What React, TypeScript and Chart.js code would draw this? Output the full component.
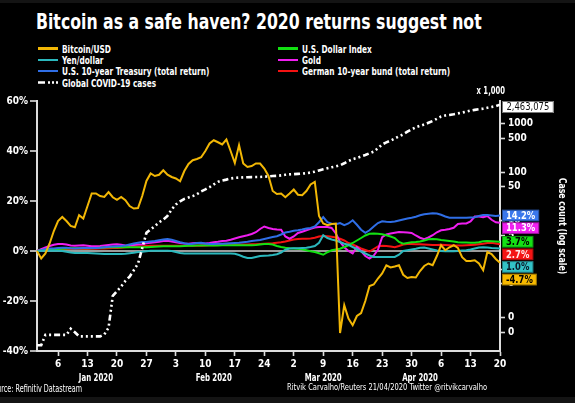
import React, { useEffect, useRef } from "react";
import { Chart, registerables } from "chart.js";

Chart.register(...registerables);

const FONT = '"Liberation Sans Narrow", "DejaVu Sans Condensed", "Liberation Sans", sans-serif';

// ---------- data ----------
const DAY_COUNT = 111; // 1 Jan 2020 .. 20 Apr 2020
const days: string[] = [];
for (let i = 0; i < DAY_COUNT; i++) {
  days.push(new Date(Date.UTC(2020, 0, 1 + i)).toISOString().slice(0, 10));
}

const tickDates = [
  "2020-01-06", "2020-01-13", "2020-01-20", "2020-01-27",
  "2020-02-03", "2020-02-10", "2020-02-17", "2020-02-24",
  "2020-03-02", "2020-03-09", "2020-03-16", "2020-03-23", "2020-03-30",
  "2020-04-06", "2020-04-13", "2020-04-20",
];
const tickLabels = ["6", "13", "20", "27", "3", "10", "17", "24", "2", "9", "16", "23", "30", "6", "13", "20"];

const monthLabels = ["Jan 2020", "Feb 2020", "Mar 2020", "Apr 2020"];
const monthLabelDates = ["2020-01-15", "2020-02-12", "2020-03-09", "2020-04-01"];

// % returns since 1 Jan 2020
const bitcoin = [
  0, -3, -1, 3, 8, 12, 13.6, 12, 10, 9.5,
  14.3, 13, 18, 23, 23, 22, 21.6, 23.6, 21.5, 20.5,
  21.6, 20.3, 18, 17, 17.2, 22, 28, 31, 30, 30.5,
  32.3, 30.5, 29.6, 29, 27.9, 32, 34.8, 36.3, 36.8, 37.5,
  40, 43, 44.3, 43.5, 42.6, 44.6, 40, 35.2, 42.3, 35,
  33.6, 34, 35, 35, 33, 30, 24, 22.8, 23, 21.5,
  23, 24.6, 22.5, 22.3, 24, 26.6, 27.6, 14, 11, 10.3,
  10.8, 11, -32.8, -21.7, -27, -29.7, -26, -24.8, -20, -14,
  -13.4, -11, -9, -5.7, -6.6, -6.2, -5.7, -9.5, -10.8, -10.4,
  -10.6, -8, -6, -5, -5.7, -2, 2.3, 0.3, 1.5, 2.3,
  1.2, -2.5, -4, -4, -3.7, -5, -7.7, -0.4, -1.2, -3.2,
  -4.7,
];

const yen = [
  0, 0.1, 0.1, 0.1, 0.1, 0.1, 0.0, -0.3, -0.6, -0.8,
  -0.8, -0.8, -0.8, -0.9, -1.0, -1.1, -1.2, -1.2, -1.2, -1.2,
  -1.2, -1.1, -0.9, -0.7, -0.4, -0.3, -0.1, 0.1, 0.1, 0.1,
  0.1, 0.1, 0.0, -0.4, -0.8, -1.0, -1.0, -1.0, -1.0, -1.0,
  -1.0, -1.0, -1.0, -1.0, -1.0, -1.0, -1.0, -1.1, -1.6, -2.3,
  -2.8, -2.8, -2.4, -2.0, -1.9, -1.8, -1.6, -1.3, -0.6, 0.5,
  1.0, 1.1, 1.1, 1.2, 1.3, 1.6, 2.0, 3.3, 6.3, 5.2,
  4.6, 4.2, 3.6, 2.9, 2.5, 1.6, 0.8, -0.2, -1.0, -1.8,
  -2.4, -2.4, -2.4, -2.4, -2.4, -2.4, -1.5, 0, 0.3, 0.6,
  0.9, 1.3, 1.4, 1.0, 0.6, 0.2, 0, -0.1, -0.1, -0.1,
  0, 0.2, 0.3, 0.6, 1.0, 1.4, 1.5, 1.4, 1.2, 1.1,
  1.0,
];

const treasury = [
  0, 0.3, 0.8, 1.0, 1.0, 1.2, 1.3, 1.3, 1.1, 1.0,
  1.1, 1.2, 1.2, 1.2, 1.2, 1.3, 1.5, 1.7, 1.8, 1.9,
  2.0, 2.2, 2.6, 3.0, 3.3, 3.6, 3.6, 3.8, 4.0, 4.3,
  4.6, 4.8, 4.5, 4.0, 3.5, 3.1, 2.8, 2.9, 3.2, 3.3,
  3.0, 2.8, 2.8, 2.9, 2.9, 3.0, 3.1, 3.2, 3.3, 3.5,
  3.7, 4.0, 4.2, 4.4, 4.8, 5.2, 5.6, 5.9, 6.6, 7.4,
  7.7, 8.1, 8.3, 8.6, 9.0, 9.2, 9.8, 11.5, 13.6, 11.5,
  10.9, 10.7, 11.2, 10.3, 11, 12.3, 10.5, 8.5, 7.3, 8.3,
  9.8, 11.2, 11.9, 11.7, 11.6, 11.8, 12.2, 12.6, 13.0, 13.3,
  13.7, 14.3, 14.7, 14.9, 15.1, 15.0, 14.5, 13.8, 13.3, 13.3,
  13.3, 13.3, 13.3, 13.4, 13.5, 14.0, 14.4, 14.4, 14.2, 14.0,
  14.2,
];

const dollarIndex = [
  0, 0.3, 0.5, 0.6, 0.7, 0.8, 0.9, 1.0, 1.1, 1.1,
  1.1, 1.1, 1.1, 1.1, 1.2, 1.3, 1.4, 1.5, 1.5, 1.5,
  1.5, 1.5, 1.5, 1.5, 1.5, 1.5, 1.5, 1.6, 1.7, 1.8,
  1.9, 1.9, 1.9, 1.9, 1.9, 2.0, 2.1, 2.1, 2.2, 2.2,
  2.2, 2.2, 2.2, 2.2, 2.3, 2.3, 2.3, 2.3, 2.3, 2.3,
  2.3, 2.3, 2.4, 2.6, 2.8, 2.8, 2.6, 2.0, 1.6, 1.3,
  1.1, 1.0, 0.9, 0.7, 0.3, -0.1, -0.4, -0.9, -1.5, -0.5,
  0.3, 0.6, 0.9, 1.6, 2.3, 3.2, 4.2, 5.2, 6.2, 6.9,
  7.0, 6.9, 6.7, 6.3, 5.8, 5.2, 3.6, 2.9, 3.2, 3.5,
  3.6, 3.8, 4.2, 4.7, 4.8, 4.7, 4.4, 4.2, 4.0, 3.8,
  3.5, 3.4, 3.4, 3.3, 3.3, 3.5, 3.9, 4.0, 3.9, 3.8,
  3.7,
];

const gold = [
  0, 0.7, 1.4, 2.0, 2.5, 2.8, 2.8, 2.6, 2.2, 2.1,
  2.2, 2.3, 2.1, 1.9, 1.9, 2.0, 2.2, 2.4, 2.6, 2.7,
  2.5, 2.2, 2.1, 2.4, 2.6, 2.7, 3.1, 3.3, 3.5, 3.7,
  4.0, 4.1, 3.8, 3.5, 3.2, 3.0, 2.9, 3.1, 3.2, 3.0,
  3.0, 3.2, 3.5, 3.7, 4.0, 4.1, 4.5, 5.0, 5.5, 5.9,
  6.3, 6.8, 7.5, 8.8, 9.8, 9.2, 8.8, 8.6, 8.5, 5.8,
  4.9, 5.8, 7.2, 7.7, 8.3, 8.9, 9.4, 9.6, 9.6, 9.6,
  9.2, 7, 3.6, 1.5, 0, -1, 1.6, 0, -2, -3,
  -1.8, 0.5, 5.5, 6.6, 7, 7.3, 7.6, 7.5, 7.4, 7.2,
  6.2, 5.3, 4.7, 5.4, 6.3, 7.5, 8.3, 8.5, 8.8, 9.3,
  10.8, 11, 11, 11.8, 13.8, 13.8, 13.5, 14, 12.5, 11.5,
  11.3,
];

const bund = [
  0, 0.5, 0.8, 0.8, 0.8, 0.8, 0.8, 0.8, 0.8, 0.8,
  0.8, 0.8, 0.8, 0.9, 0.9, 1.0, 1.0, 1.1, 1.2, 1.2,
  1.3, 1.5, 1.6, 1.7, 1.8, 1.9, 2.0, 2.1, 2.1, 2.1,
  2.1, 2.1, 2.1, 2.1, 2.1, 2.1, 2.1, 2.1, 2.1, 2.1,
  2.2, 2.3, 2.3, 2.4, 2.4, 2.4, 2.5, 2.5, 2.6, 2.6,
  2.6, 2.7, 2.7, 2.8, 2.9, 3.0, 3.1, 3.3, 3.5, 3.8,
  4.2, 4.6, 4.8, 4.9, 4.9, 5.0, 5.3, 5.8, 6.0, 5.9,
  5.7, 5.4, 4.9, 4.2, 3.2, 2.6, 1.8, 1.0, 0.4, -0.2,
  0.8, 1.8, 2.1, 2.0, 1.8, 1.5, 2.0, 2.6, 2.8, 2.8,
  2.7, 2.7, 2.6, 2.5, 2.4, 2.4, 2.5, 2.4, 2.3, 2.2,
  2.2, 2.2, 2.3, 2.4, 2.5, 2.7, 2.9, 3.2, 3.3, 3.0,
  2.7,
];

// Global COVID-19 cases, thousands
const covid = [
  0.027, 0.027, 0.044, 0.044, 0.044, 0.044, 0.044, 0.044, 0.059, 0.05,
  0.041, 0.041, 0.041, 0.041, 0.041, 0.041, 0.045, 0.062, 0.28, 0.35,
  0.44, 0.57, 0.7, 0.95, 1.3, 2.7, 5.6, 6.6, 7.7, 9.2,
  10.5, 12.5, 17, 21.5, 25, 28, 30, 32, 35, 40,
  44, 49, 56, 63, 67, 70, 74, 76, 77, 78,
  78.5, 79, 79.3, 79.5, 80.4, 81.5, 83, 84, 85.5, 88,
  90, 91, 92, 93, 95, 98, 102, 108, 114, 120,
  126, 131, 138, 152, 170, 185, 196, 210, 225, 245,
  265, 310, 372, 410, 445, 495, 545, 600, 680, 760,
  840, 900, 960, 1040, 1130, 1260, 1400, 1470, 1510, 1560,
  1625, 1690, 1770, 1850, 1920, 1980, 2035, 2120, 2210, 2290,
  2463.075,
];
const covidLatest = "2,463,075";

const leftTicks = [-40, -20, 0, 20, 40, 60];
const rightTicks = [1000, 500, 100, 50, 10, 5, 1, 0.5, 0.1, 0.05];

const COLORS = {
  bitcoin: "#f2b705",
  yen: "#2bb8bd",
  treasury: "#2f6ee6",
  dollar: "#12e012",
  gold: "#f01ef0",
  bund: "#f41212",
  covid: "#ffffff",
};

const series = [
  { label: "Bitcoin/USD", data: bitcoin, color: COLORS.bitcoin, box: "#f7b900", text: "#000" },
  { label: "Yen/dollar", data: yen, color: COLORS.yen, box: "#33c2c7", text: "#0b1a2a" },
  { label: "U.S. 10-year Treasury (total return)", data: treasury, color: COLORS.treasury, box: "#3a77ec", text: "#fff" },
  { label: "U.S. Dollar Index", data: dollarIndex, color: COLORS.dollar, box: "#14e014", text: "#000" },
  { label: "Gold", data: gold, color: COLORS.gold, box: "#f020f0", text: "#fff" },
  { label: "German 10-year bund (total return)", data: bund, color: COLORS.bund, box: "#f41414", text: "#ffe8e8" },
];

const legendItems = [
  { label: "Bitcoin/USD", color: COLORS.bitcoin, col: 0, row: 0 },
  { label: "Yen/dollar", color: COLORS.yen, col: 0, row: 1 },
  { label: "U.S. 10-year Treasury (total return)", color: COLORS.treasury, col: 0, row: 2 },
  { label: "Global COVID-19 cases", color: COLORS.covid, col: 0, row: 3, dashed: true },
  { label: "U.S. Dollar Index", color: COLORS.dollar, col: 1, row: 0 },
  { label: "Gold", color: COLORS.gold, col: 1, row: 1 },
  { label: "German 10-year bund (total return)", color: COLORS.bund, col: 1, row: 2 },
];

function squeezedText(ctx: any, text: string, x: number, y: number, sx: number) {
  ctx.save();
  ctx.translate(x, y);
  ctx.scale(sx, 1);
  ctx.fillText(text, 0, 0);
  ctx.restore();
}

// ---------- overlay plugin ----------
const overlayPlugin = {
  id: "overlay",
  afterDraw(chart: any) {
    const { ctx, chartArea, scales } = chart;
    const xs = scales.x;
    const ys = scales.y;
    const y2 = scales.y2;
    ctx.save();

    // month labels
    ctx.fillStyle = "#fff";
    ctx.font = `bold 10.5px ${FONT}`;
    ctx.textAlign = "center";
    ctx.textBaseline = "middle";
    monthLabels.forEach((m, i) => {
      const idx = days.indexOf(monthLabelDates[i]);
      squeezedText(ctx, m, xs.getPixelForValue(idx), chartArea.bottom + 27, 0.74);
    });

    // "x 1,000"
    ctx.font = `bold 10px ${FONT}`;
    ctx.textAlign = "right";
    squeezedText(ctx, "x 1,000", chartArea.right + 5, chartArea.top - 10, 0.76);

    // right axis title
    ctx.save();
    ctx.translate(chartArea.right + 62, (chartArea.top + chartArea.bottom) / 2);
    ctx.rotate(Math.PI / 2);
    ctx.textAlign = "center";
    ctx.font = `bold 10.5px ${FONT}`;
    squeezedText(ctx, "Case count (log scale)", 0, 0, 0.82);
    ctx.restore();

    // end-value boxes
    const last = DAY_COUNT - 1;
    const items = series
      .map((s) => ({ v: s.data[last], box: s.box, text: s.text }))
      .sort((a, b) => b.v - a.v);
    let prev = -Infinity;
    ctx.font = `bold 11px ${FONT}`;
    ctx.textAlign = "left";
    items.forEach((it) => {
      const cy = Math.max(ys.getPixelForValue(it.v), prev + 12.6);
      prev = cy;
      const label = `${it.v.toFixed(1)}%`;
      const w = ctx.measureText(label).width * 0.85 + 8;
      const bx = chartArea.right + 2;
      ctx.fillStyle = it.box;
      ctx.fillRect(bx, cy - 5.8, w, 11.6);
      ctx.strokeStyle = "rgba(0,0,0,0.35)";
      ctx.lineWidth = 1;
      ctx.strokeRect(bx + 0.5, cy - 5.3, w - 1, 10.6);
      ctx.fillStyle = it.text;
      squeezedText(ctx, label, bx + 4, cy + 0.5, 0.85);
    });

    // COVID latest box
    const cyc = Math.max(y2.getPixelForValue(covid[last]), chartArea.top + 6);
    ctx.font = `11px ${FONT}`;
    const w2 = ctx.measureText(covidLatest).width * 0.85 + 9;
    const bx2 = chartArea.right + 2;
    ctx.fillStyle = "#fff";
    ctx.fillRect(bx2, cyc - 6, w2, 12);
    ctx.strokeStyle = "#777";
    ctx.strokeRect(bx2 + 0.5, cyc - 5.5, w2 - 1, 11);
    ctx.fillStyle = "#111";
    squeezedText(ctx, covidLatest, bx2 + 4.5, cyc + 0.5, 0.85);

    ctx.restore();
  },
};

const tickFont = { family: FONT, size: 10, weight: "bold" as const };

export default function App() {
  const canvasRef = useRef<HTMLCanvasElement | null>(null);

  useEffect(() => {
    document.body.style.margin = "0";
    document.body.style.background = "#141414";
    const canvas = canvasRef.current;
    if (!canvas) return;

    const lineDs = series.map((s, i) => ({
      label: s.label,
      data: s.data,
      borderColor: s.color,
      backgroundColor: s.color,
      borderWidth: 2,
      pointRadius: 0,
      tension: 0,
      yAxisID: "y",
      order: i === 0 ? 1 : 2 + i,
    }));

    const chart = new Chart(canvas, {
      type: "line",
      data: {
        labels: days,
        datasets: [
          ...lineDs,
          {
            label: "Global COVID-19 cases",
            data: covid,
            borderColor: COLORS.covid,
            backgroundColor: COLORS.covid,
            borderWidth: 2.6,
            borderDash: [6, 3, 2, 3, 2, 3, 2, 3],
            pointRadius: 0,
            tension: 0,
            yAxisID: "y2",
            order: 0,
          },
        ],
      },
      options: {
        animation: false,
        responsive: true,
        maintainAspectRatio: false,
        layout: { padding: { top: 101, left: 0, right: 0, bottom: 0 } },
        plugins: { legend: { display: false }, tooltip: { enabled: false } },
        scales: {
          x: {
            type: "category",
            offset: false,
            grid: { drawOnChartArea: false, tickColor: "#dddddd", tickLength: 5, tickWidth: 1.6, color: "#dddddd" },
            border: { color: "#dddddd", width: 2 },
            ticks: {
              autoSkip: false,
              maxRotation: 0,
              color: "#ffffff",
              font: tickFont,
              padding: 2,
              callback: (v: any) => {
                const k = tickDates.indexOf(days[Number(v)]);
                return k >= 0 ? tickLabels[k] : null;
              },
            },
            afterBuildTicks: (s: any) => {
              s.ticks = s.ticks.filter((t: any) => tickDates.includes(days[t.value]));
            },
            afterFit: (s: any) => {
              s.height = 52;
            },
          },
          y: {
            type: "linear",
            position: "left",
            min: -40,
            max: 60,
            grid: {
              drawOnChartArea: true,
              color: (c: any) => (c.tick && c.tick.value === 0 ? "#9a9a9a" : "rgba(0,0,0,0)"),
              lineWidth: (c: any) => (c.tick && c.tick.value === 0 ? 2 : 0),
              tickColor: "#dddddd",
              tickLength: 7,
              tickWidth: 1.6,
            },
            border: { color: "#dddddd", width: 2 },
            ticks: {
              color: "#ffffff",
              font: tickFont,
              padding: 2,
              callback: (v: any) => `${v}%`,
            },
            afterBuildTicks: (s: any) => {
              s.ticks = leftTicks.map((v) => ({ value: v }));
            },
            afterFit: (s: any) => {
              s.width = 37;
            },
          },
          y2: {
            type: "logarithmic",
            position: "right",
            min: 0.0205,
            max: 2925,
            grid: { drawOnChartArea: false, tickColor: "#dddddd", tickLength: 5, tickWidth: 1.6 },
            border: { color: "#dddddd", width: 2 },
            ticks: {
              autoSkip: false,
              color: "#ffffff",
              font: tickFont,
              padding: 3,
              callback: (v: any) => (Number(v) >= 1 ? String(v) : "0"),
            },
            afterBuildTicks: (s: any) => {
              s.ticks = rightTicks.map((v) => ({ value: v }));
            },
            afterFit: (s: any) => {
              s.width = 75;
            },
          },
        },
      },
      plugins: [overlayPlugin],
    } as any);

    return () => chart.destroy();
  }, []);

  const textBase: React.CSSProperties = {
    position: "absolute",
    color: "#fff",
    fontFamily: FONT,
    whiteSpace: "nowrap",
    transformOrigin: "0 50%",
  };

  return (
    <div style={{ position: "relative", width: 575, height: 403, background: "#141414", overflow: "hidden" }}>
      <div style={{ position: "absolute", left: 0, top: 3, width: 575, height: 394, background: "#000" }} />
      <div
        style={{
          ...textBase,
          left: 36,
          top: 12,
          fontSize: 21,
          fontWeight: "bold",
          lineHeight: "21px",
          transform: "scaleX(0.832)",
        }}
      >
        Bitcoin as a safe haven? 2020 returns suggest not
      </div>
      {legendItems.map((it) => {
        const x = it.col === 0 ? 38 : 278;
        const cy = 48.5 + it.row * 11.4;
        return (
          <React.Fragment key={it.label}>
            {it.dashed ? (
              <svg style={{ position: "absolute", left: x, top: cy - 1.5 }} width={21} height={3}>
                <line x1={0} y1={1.5} x2={21} y2={1.5} stroke="#fff" strokeWidth={2.5} strokeDasharray="7 3 2 2 2 2 2 2" />
              </svg>
            ) : (
              <div style={{ position: "absolute", left: x, top: cy - 1.2, width: 20, height: 2.4, background: it.color }} />
            )}
            <div
              style={{
                ...textBase,
                left: x + 24,
                top: cy - 6,
                fontSize: 10.5,
                fontWeight: "bold",
                lineHeight: "12px",
                transform: "scaleX(0.78)",
              }}
            >
              {it.label}
            </div>
          </React.Fragment>
        );
      })}
      <canvas ref={canvasRef} style={{ position: "absolute", left: 0, top: 0, width: 575, height: 403 }} />
      <div style={{ position: "absolute", left: 0, top: 0, width: 575, height: 403, pointerEvents: "none" }}>
        <div style={{ ...textBase, left: -11, top: 383, fontSize: 10, lineHeight: "12px", transform: "scaleX(0.72)" }}>
          Source: Refinitiv Datastream
        </div>
        <div style={{ ...textBase, left: 287, top: 381, fontSize: 9.5, lineHeight: "12px", transform: "scaleX(0.79)" }}>
          Ritvik Carvalho/Reuters 21/04/2020 Twitter @ritvikcarvalho
        </div>
      </div>
    </div>
  );
}
